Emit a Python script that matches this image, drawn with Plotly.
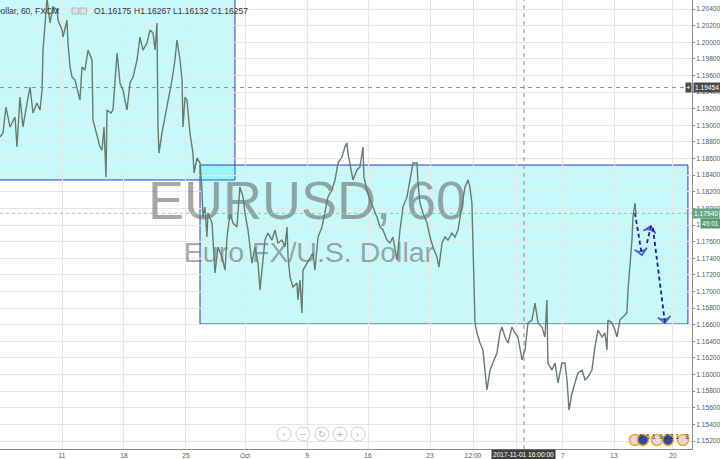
import plotly.graph_objects as go

# ---------------- data ----------------
# x: trading days counted from Mon 11 Sep 2017 00:00 ; y: EURUSD price (hourly chart, traced)
t_days = [-5.00, -4.76, -4.52, -4.19, -3.79, -3.63, -3.39, -3.15, -2.82, -2.58, -2.34, -2.02,
          -1.77, -1.61, -1.53, -1.37, -1.21, -0.97, -0.73, -0.40, -0.32, 0.00, 0.08, 0.40,
          0.48, 0.65, 0.81, 1.05, 1.45, 1.61, 1.85, 2.10, 2.42, 2.50, 2.82, 3.06, 3.23, 3.39,
          3.55, 3.63, 3.95, 4.11, 4.44, 4.68, 4.92, 5.24, 5.48, 5.73, 6.05, 6.29, 6.53, 6.85,
          7.10, 7.34, 7.50, 7.66, 7.74, 7.82, 8.06, 8.31, 8.55, 8.87, 9.11, 9.27, 9.52, 9.68,
          9.76, 9.92, 10.08, 10.32, 10.56, 10.65, 10.89, 11.13, 11.29, 11.37, 11.53, 11.69,
          11.77, 12.10, 12.34, 12.58, 12.90, 13.15, 13.31, 13.55, 13.79, 14.11, 14.35, 14.60,
          14.76, 15.00, 15.32, 15.56, 15.81, 15.97, 16.13, 16.37, 16.61, 16.94, 17.18, 17.42,
          17.74, 17.98, 18.15, 18.23, 18.39, 18.63, 18.95, 19.03, 19.19, 19.35, 19.44, 19.76,
          20.00, 20.24, 20.40, 20.65, 20.97, 21.21, 21.45, 21.77, 22.02, 22.26, 22.58, 22.82,
          22.98, 23.06, 23.23, 23.47, 23.79, 24.03, 24.27, 24.35, 24.60, 24.84, 25.08, 25.40,
          25.65, 25.89, 26.21, 26.45, 26.69, 27.02, 27.26, 27.50, 27.82, 28.06, 28.31, 28.63,
          28.71, 28.87, 29.11, 29.44, 29.68, 29.92, 30.24, 30.40, 30.65, 30.89, 31.13, 31.45,
          31.69, 31.94, 32.26, 32.50, 32.74, 32.90, 33.06, 33.15, 33.31, 33.47, 33.71, 33.95,
          34.27, 34.52, 34.76, 35.08, 35.32, 35.48, 35.73, 35.97, 36.29, 36.53, 36.77, 37.10,
          37.34, 37.58, 37.90, 38.15, 38.39, 38.71, 38.95, 39.11, 39.19, 39.52, 39.76, 40.00,
          40.32, 40.56, 40.73, 40.89, 41.13, 41.37, 41.61, 41.94, 42.18, 42.42, 42.74, 42.98,
          43.23, 43.55, 43.79, 43.95, 44.03, 44.35, 44.60, 44.76, 45.00, 45.24, 45.56, 45.65,
          45.81, 45.97, 46.05, 46.21, 46.29]
price = [1.18859, 1.18907, 1.19220, 1.18979, 1.19100, 1.18739, 1.19340, 1.18979, 1.19268, 1.19461,
         1.19148, 1.19268, 1.19184, 1.19425, 1.19906, 1.20183, 1.20530, 1.20231, 1.20424, 1.20388,
         1.20267, 1.20147, 1.20063, 1.20267, 1.19990, 1.19702, 1.19581, 1.19545, 1.19304, 1.19702,
         1.19665, 1.19906, 1.19786, 1.19064, 1.18859, 1.18739, 1.18702, 1.18979, 1.18377, 1.19184,
         1.19148, 1.19184, 1.19870, 1.19509, 1.19425, 1.19184, 1.19509, 1.19581, 1.19786, 1.20063,
         1.19906, 1.19990, 1.20147, 1.20111, 1.19906, 1.20231, 1.18979, 1.18666, 1.18907, 1.19100,
         1.19304, 1.19545, 1.19786, 1.20027, 1.19786, 1.19545, 1.18979, 1.19340, 1.19304, 1.18907,
         1.18666, 1.18426, 1.18606, 1.18546, 1.18221, 1.17896, 1.18016, 1.17655, 1.17944, 1.17824,
         1.17222, 1.17535, 1.17415, 1.17258, 1.17655, 1.17944, 1.17824, 1.17776, 1.18257, 1.18137,
         1.17944, 1.17740, 1.17342, 1.17535, 1.17342, 1.17017, 1.17258, 1.17619, 1.17703, 1.17619,
         1.17740, 1.17583, 1.17619, 1.17535, 1.17776, 1.17415, 1.17174, 1.17053, 1.17102, 1.16897,
         1.17138, 1.16740, 1.17258, 1.17342, 1.17415, 1.17463, 1.17258, 1.17655, 1.17776, 1.17980,
         1.18137, 1.18221, 1.18341, 1.18546, 1.18618, 1.18739, 1.18787, 1.18666, 1.18546, 1.18341,
         1.18462, 1.18498, 1.18739, 1.18377, 1.18221, 1.18101, 1.18016, 1.17896, 1.17776, 1.17740,
         1.17619, 1.17583, 1.17655, 1.17378, 1.17740, 1.18016, 1.18137, 1.18341, 1.18546, 1.18546,
         1.18305, 1.18065, 1.17944, 1.17824, 1.17655, 1.17535, 1.17415, 1.17294, 1.17583, 1.17655,
         1.17619, 1.17703, 1.17655, 1.17740, 1.18065, 1.18257, 1.18341, 1.18257, 1.18065, 1.17415,
         1.16620, 1.16500, 1.16379, 1.16295, 1.15814, 1.16054, 1.16139, 1.16259, 1.16500, 1.16572,
         1.16452, 1.16379, 1.16572, 1.16500, 1.16452, 1.16175, 1.16295, 1.16620, 1.16656, 1.16861,
         1.16620, 1.16572, 1.16452, 1.16897, 1.16139, 1.16054, 1.16139, 1.15898, 1.16139, 1.16139,
         1.15934, 1.15573, 1.15778, 1.15898, 1.16018, 1.16054, 1.15934, 1.15970, 1.16054, 1.16331,
         1.16536, 1.16452, 1.16500, 1.16295, 1.16656, 1.16620, 1.16536, 1.16452, 1.16656, 1.16692,
         1.16740, 1.17017, 1.17294, 1.17619, 1.17896, 1.18065, 1.17944]

# the tick at 36.69 is hidden behind the crosshair date label in the reference
tick_days = [0, 5, 10, 14.76, 19.76, 24.68, 29.68, 33.15, 36.69, 40.40, 44.52, 49.27]
tick_text = ["11", "18", "25", "Oct", "9", "16", "23", "12:00", "", "7", "13", "20"]

# drawn zones (day, price)
zone1_days = [-7.0, 13.95]
zone1_price = [1.18342, 1.2070]
zone2_days = [11.13, 50.48]
zone2_price = [1.16608, 1.18522]

# hand-drawn forecast arrows (day, price)
arrows = [
    ([46.21, 46.77], [1.17944, 1.17438]),
    ([47.18, 47.50], [1.17583, 1.17788]),
    ([47.66, 48.63], [1.17764, 1.16620]),
]

crosshair_price = 1.19454
crosshair_day = 37.26
crosshair_label = "2017-11-01 16:00:00"
last_price = 1.17940
countdown = "49:01"

event_days = [46.21, 46.85, 47.98, 48.87, 50.08]
event_fill = ["#e9d6d8", "#2d4c9c", "#e9d6d8", "#2d4c9c", "#e9d6d8"]
event_digit_days = [46.69, 47.26, 47.74, 48.31, 48.79, 49.19, 49.60, 50.41]
event_digits = ["6", "5", "1", "9", "2", "2", "1", "3"]

X_RANGE = [-5.0, 50.81]
Y_RANGE = [1.151037, 1.2050833]

W, H = 720, 459
ML, MR, MT, MB = 0, 28, 0, 10
PW, PH = W - ML - MR, H - MT - MB


def px(xp):
    return xp / PW


def py(yp):
    return (PH - yp) / PH


FONT = "Liberation Sans, Arial, sans-serif"
AX_FONT = 6.6

fig = go.Figure()

# watermark (behind the series)
fig.add_trace(go.Scatter(
    x=[19.76, 19.92], y=[1.18040, 1.17440], mode="text",
    text=["EURUSD, 60", "Euro FX/U.S. Dollar"],
    textfont=dict(family=FONT, size=[54, 28.5], color="rgba(95,95,95,0.55)"),
    textposition="middle center", hoverinfo="skip", showlegend=False))

# price series
fig.add_trace(go.Scatter(
    x=t_days, y=price, mode="lines",
    line=dict(color="#667c6c", width=1.4), showlegend=False, hoverinfo="skip"))

# forecast arrows
for ax_, ay_ in arrows:
    fig.add_trace(go.Scatter(
        x=ax_, y=ay_, mode="lines+markers",
        line=dict(color="#1c1ca8", width=1.8, dash="4px,3px"),
        marker=dict(symbol="arrow-wide-open", size=[0, 9], angleref="previous",
                    color="#1c1ca8", line=dict(color="#1c1ca8", width=1.6)),
        showlegend=False, hoverinfo="skip", cliponaxis=False))

# event icons
fig.add_trace(go.Scatter(
    x=event_days, y=[1.15212] * len(event_days), mode="markers",
    marker=dict(symbol="circle", size=11, color=event_fill,
                line=dict(color="#f0a630", width=1.5)),
    showlegend=False, hoverinfo="skip", cliponaxis=False))
fig.add_trace(go.Scatter(
    x=event_digit_days, y=[1.15248] * len(event_digit_days), mode="text",
    text=event_digits, textfont=dict(family=FONT, size=6.5, color="#333"),
    showlegend=False, hoverinfo="skip", cliponaxis=False))

shapes = []
# zones
shapes.append(dict(type="rect", xref="x", yref="y", layer="below",
                   x0=zone1_days[0], x1=zone1_days[1], y0=zone1_price[0], y1=zone1_price[1],
                   fillcolor="rgba(0,228,238,0.22)", line=dict(color="#3434c4", width=1)))
shapes.append(dict(type="rect", xref="x", yref="y", layer="below",
                   x0=zone2_days[0], x1=zone2_days[1], y0=zone2_price[0], y1=zone2_price[1],
                   fillcolor="rgba(0,228,238,0.22)", line=dict(color="#3434c4", width=1)))
# last price line
shapes.append(dict(type="line", xref="paper", yref="y", x0=0, x1=1, y0=last_price, y1=last_price,
                   line=dict(color="#8fc9a8", width=1, dash="dot"), layer="above"))
# crosshair
shapes.append(dict(type="line", xref="paper", yref="y", x0=0, x1=1,
                   y0=crosshair_price, y1=crosshair_price,
                   line=dict(color="#8a8a8a", width=1, dash="4px,4px")))
shapes.append(dict(type="line", xref="x", yref="paper", x0=crosshair_day, x1=crosshair_day,
                   y0=0, y1=1, line=dict(color="#8a8a8a", width=1, dash="4px,4px")))
# navigation buttons
for bx in [284, 303, 322, 340, 358]:
    shapes.append(dict(type="circle", xref="paper", yref="paper",
                       xsizemode="pixel", ysizemode="pixel",
                       xanchor=px(bx), yanchor=py(434), x0=-7, x1=7, y0=-7, y1=7,
                       fillcolor="rgba(255,255,255,0.6)", line=dict(color="#cfcfcf", width=1)))
# header icons
for bx in [72, 80]:
    shapes.append(dict(type="rect", xref="paper", yref="paper",
                       x0=px(bx), x1=px(bx + 6.5), y0=py(14), y1=py(8),
                       fillcolor="rgba(220,220,220,0.6)", line=dict(color="#b5b5b5", width=1)))

annotations = []
# header
annotations.append(dict(xref="paper", yref="paper", x=px(61), y=py(11), xanchor="right",
                        yanchor="middle", showarrow=False,
                        text="Euro FX/U.S. Dollar, 60, FXCM",
                        font=dict(family=FONT, size=8.5, color="#333")))
for hx, ht in [(92, "O1.16175"), (132, "H1.16267"), (171, "L1.16132"), (209, "C1.16257")]:
    annotations.append(dict(xref="paper", yref="paper", x=px(hx), y=py(11), xanchor="left",
                            yanchor="middle", showarrow=False, text=ht,
                            font=dict(family=FONT, size=8.5, color="#333")))
# crosshair price label
annotations.append(dict(xref="paper", yref="y", x=1.0, y=crosshair_price, xanchor="left",
                        yanchor="middle", showarrow=False, text="1.19454", xshift=1,
                        bgcolor="#4a4a4a", borderpad=1,
                        font=dict(family=FONT, size=AX_FONT, color="white")))
annotations.append(dict(xref="paper", yref="y", x=1.0, y=crosshair_price, xanchor="right",
                        yanchor="middle", showarrow=False, text="+", xshift=0,
                        bgcolor="#4a4a4a", borderpad=0,
                        font=dict(family=FONT, size=8, color="white")))
# last price + countdown
annotations.append(dict(xref="paper", yref="y", x=1.0, y=last_price, xanchor="left",
                        yanchor="middle", showarrow=False, text="1.17940", xshift=0,
                        bgcolor="#68a885", borderpad=1,
                        font=dict(family=FONT, size=AX_FONT, color="white")))
annotations.append(dict(xref="paper", yref="y", x=1.0, y=last_price, xanchor="left",
                        yanchor="middle", showarrow=False, text=countdown, xshift=8, yshift=-10,
                        bgcolor="#589a77", borderpad=1,
                        font=dict(family=FONT, size=AX_FONT, color="white")))
# crosshair date label
annotations.append(dict(xref="x", yref="paper", x=crosshair_day, y=0, xanchor="center",
                        yanchor="top", showarrow=False, text=crosshair_label,
                        bgcolor="#3f3f3f", borderpad=1,
                        font=dict(family=FONT, size=AX_FONT, color="white")))
# navigation symbols
for bx, sym in [(284, "‹"), (303, "−"), (322, "↻"), (340, "+"), (358, "›")]:
    annotations.append(dict(xref="paper", yref="paper", x=px(bx), y=py(434), xanchor="center",
                            yanchor="middle", showarrow=False, text=sym,
                            font=dict(family="DejaVu Sans", size=9, color="#b0b0b0")))

fig.update_layout(
    width=W, height=H,
    margin=dict(l=ML, r=MR, t=MT, b=MB, autoexpand=False),
    paper_bgcolor="white", plot_bgcolor="white",
    shapes=shapes, annotations=annotations,
    showlegend=False,
    xaxis=dict(range=X_RANGE, tickvals=tick_days, ticktext=tick_text,
               showgrid=True, gridcolor="#e6e6e6", gridwidth=1, zeroline=False,
               showline=True, linecolor="#8a8a8a", linewidth=1,
               ticks="", ticklen=0,
               tickfont=dict(family=FONT, size=AX_FONT, color="#555"), fixedrange=True),
    yaxis=dict(range=Y_RANGE, side="right", tick0=1.152, dtick=0.002, tickformat=".5f",
               showgrid=True, gridcolor="#e6e6e6", gridwidth=1, zeroline=False,
               showline=True, linecolor="#8a8a8a", linewidth=1,
               ticks="outside", ticklen=2, tickcolor="#8a8a8a",
               tickfont=dict(family=FONT, size=AX_FONT, color="#555"), fixedrange=True),
)

fig.write_html("out.html",
               config={"displayModeBar": False},
               post_script="document.body.style.margin='0';document.body.style.overflow='hidden';")
